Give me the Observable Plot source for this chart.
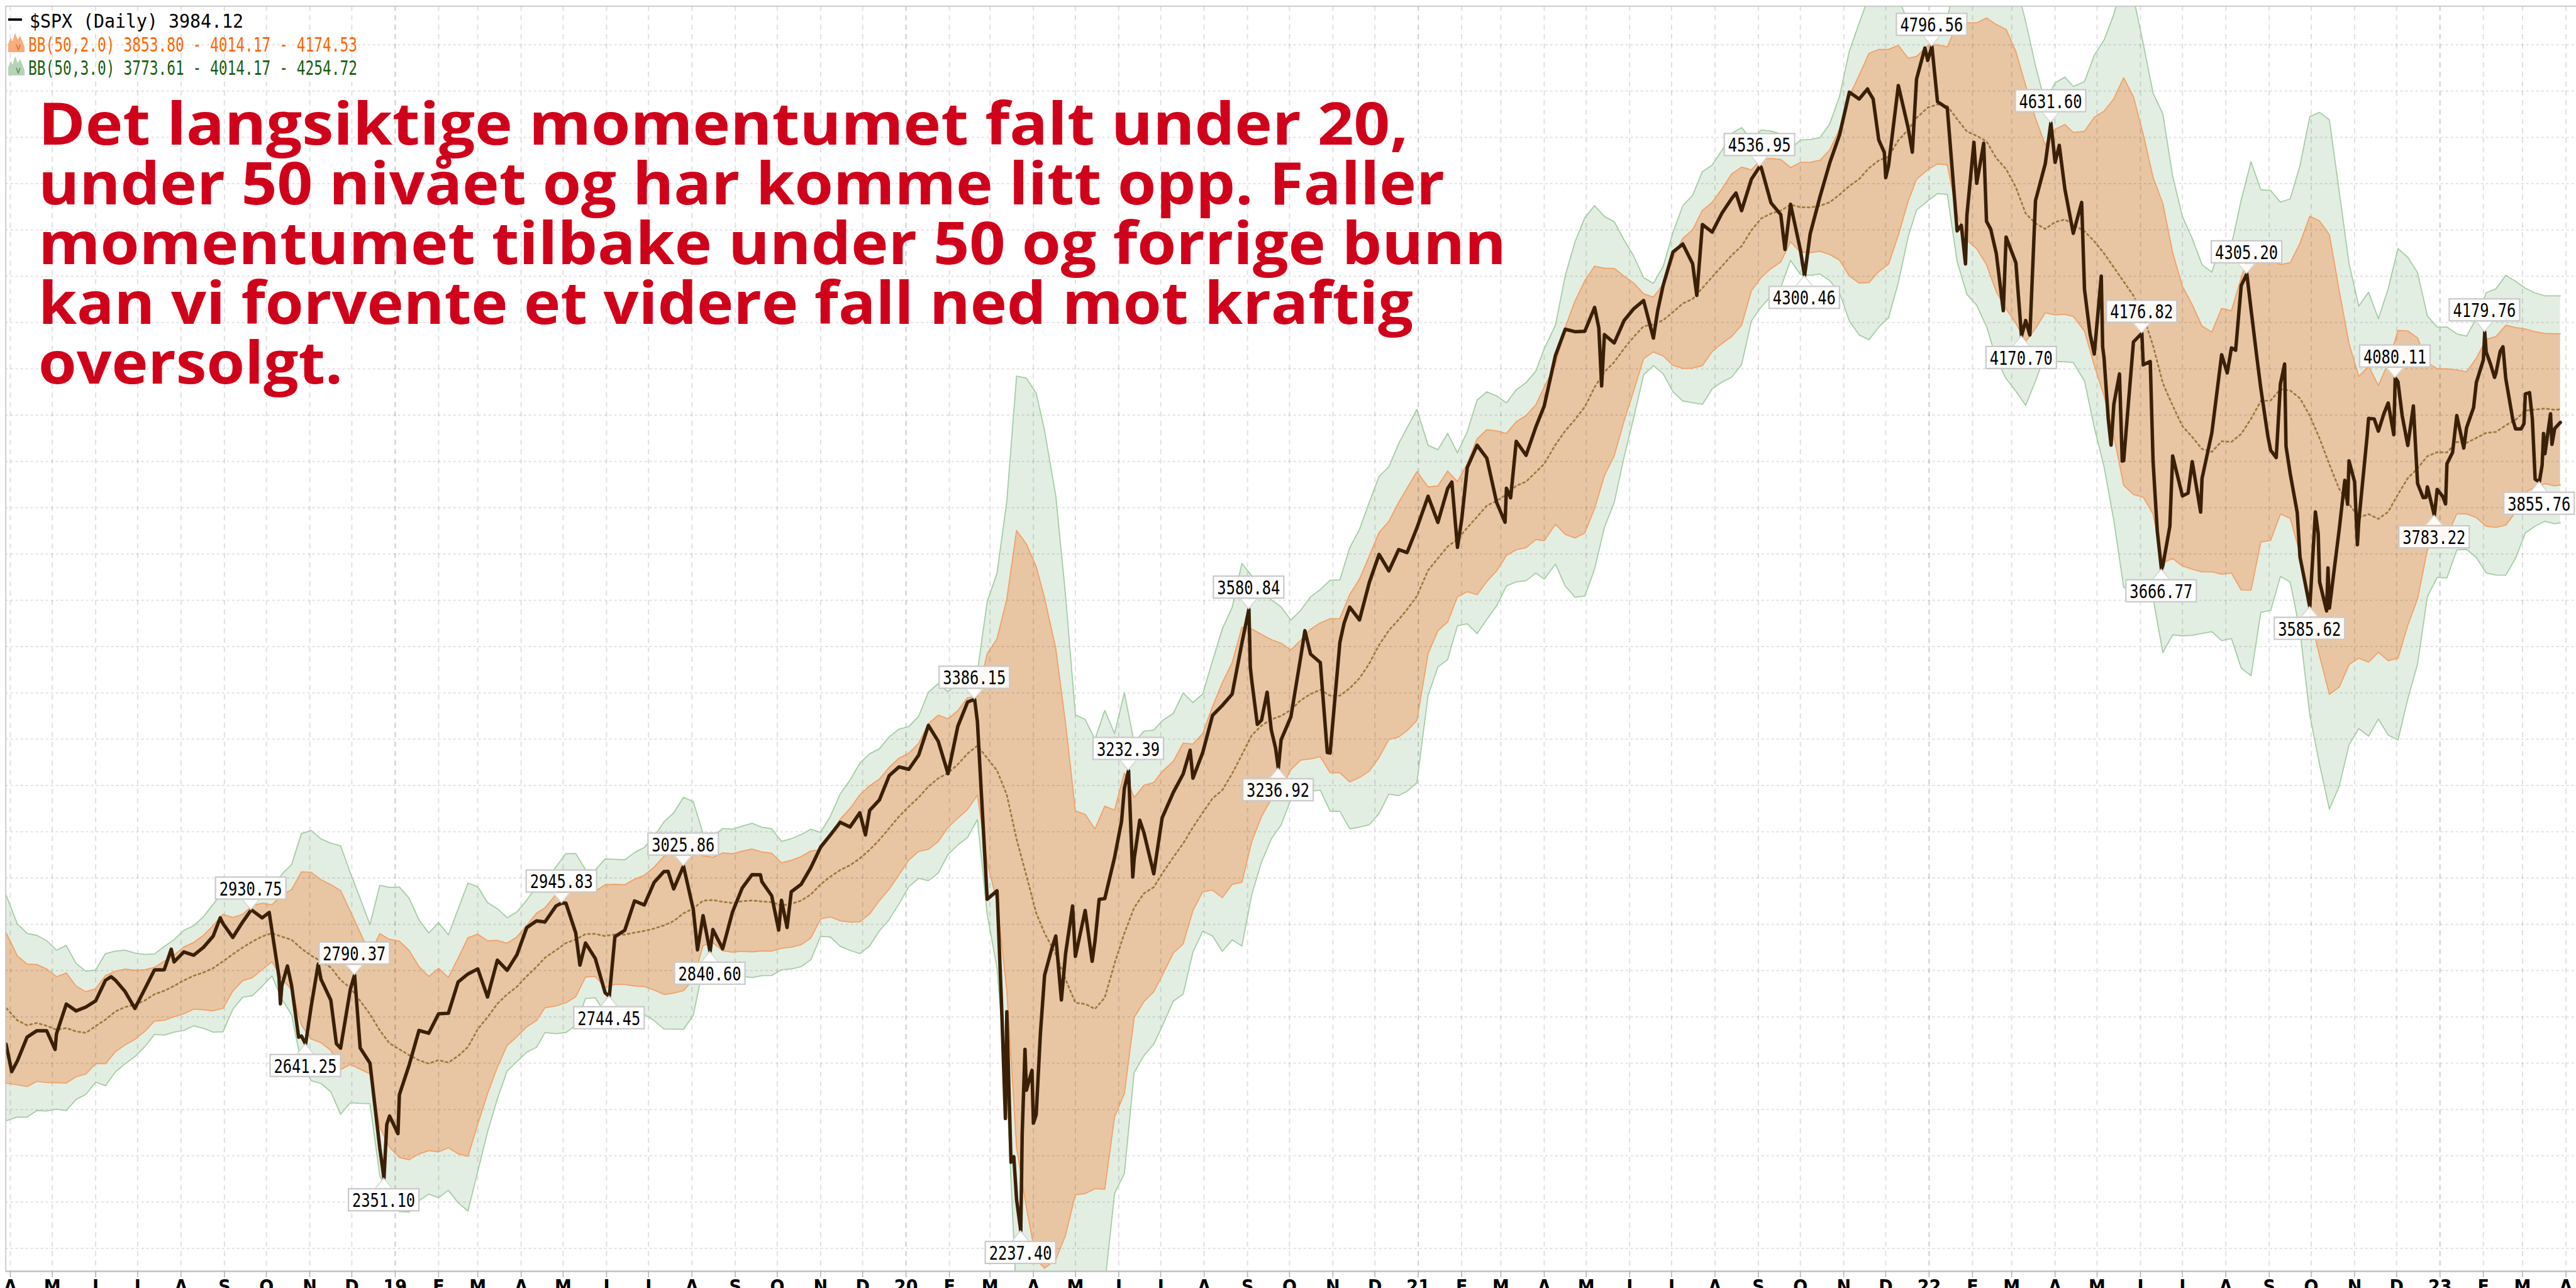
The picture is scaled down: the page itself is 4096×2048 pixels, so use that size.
<!DOCTYPE html>
<html><head><meta charset="utf-8">
<script src="https://cdn.jsdelivr.net/npm/d3@7"></script>
<script src="https://cdn.jsdelivr.net/npm/@observablehq/plot@0.6"></script>
<style>
html,body{margin:0;padding:0;background:#fff;}
#chart{position:relative;width:4096px;height:2048px;overflow:hidden;background:#fff;}
</style></head><body><div id="chart"></div>
<script>
// ---------- DATA (S&P 500 closes) ----------
const weekly2018 = [
["2017-12-01",2642.22],["2017-12-08",2651.50],["2017-12-15",2675.81],["2017-12-22",2683.34],["2017-12-29",2673.61],
["2018-01-05",2743.15],["2018-01-12",2786.24],["2018-01-19",2810.30],["2018-01-26",2872.87],["2018-02-02",2762.13],
["2018-02-09",2619.55],["2018-02-16",2732.22],["2018-02-23",2747.30],["2018-03-02",2691.25],["2018-03-09",2786.57],
["2018-03-16",2752.01],["2018-03-23",2588.26],["2018-03-29",2640.87],["2018-04-06",2604.47],["2018-04-13",2656.30],
["2018-04-20",2670.14],["2018-04-27",2669.91],["2018-05-04",2663.42],["2018-05-11",2727.72],["2018-05-18",2712.97],
["2018-05-25",2721.33],["2018-06-01",2734.62],["2018-06-08",2779.03],["2018-06-15",2779.66],["2018-06-22",2754.88],
["2018-06-29",2718.37],["2018-07-06",2759.82],["2018-07-13",2801.31],["2018-07-20",2801.83],["2018-07-27",2818.82],
["2018-08-03",2840.35],["2018-08-10",2833.28],["2018-08-17",2850.13],["2018-08-24",2874.69],["2018-08-31",2901.52],
["2018-09-07",2871.68],["2018-09-14",2904.98],["2018-09-21",2929.67],["2018-09-28",2913.98],["2018-10-05",2885.57],
["2018-10-12",2767.13],["2018-10-19",2767.78],["2018-10-26",2658.69],["2018-11-02",2723.06],["2018-11-09",2781.01],
["2018-11-16",2736.27],["2018-11-23",2632.56],["2018-11-30",2760.17],["2018-12-07",2633.08],["2018-12-14",2599.95],
["2018-12-21",2416.62],["2018-12-28",2485.74]];
const weekly2019 = [
["2019-01-04",2531.94],["2019-01-11",2596.26],["2019-01-18",2670.71],["2019-01-25",2664.76],["2019-02-01",2706.53],
["2019-02-08",2707.88],["2019-02-15",2775.60],["2019-02-22",2792.67],["2019-03-01",2803.69],["2019-03-08",2743.07],
["2019-03-15",2822.48],["2019-03-22",2800.71],["2019-03-29",2834.40],["2019-04-05",2892.74],["2019-04-12",2907.41],
["2019-04-18",2905.03],["2019-04-26",2939.88],["2019-05-03",2945.64],["2019-05-10",2881.40],["2019-05-17",2859.53],
["2019-05-24",2826.06],["2019-05-31",2752.06],["2019-06-07",2873.34],["2019-06-14",2886.98],["2019-06-21",2950.46],
["2019-06-28",2941.76],["2019-07-05",2990.41],["2019-07-12",3013.77],["2019-07-19",2976.61],["2019-07-26",3025.86],
["2019-08-02",2932.05],["2019-08-09",2918.65],["2019-08-16",2888.68],["2019-08-23",2847.11],["2019-08-30",2926.46],
["2019-09-06",2978.71],["2019-09-13",3007.39],["2019-09-20",2992.07],["2019-09-27",2961.79],["2019-10-04",2952.01],
["2019-10-11",2970.27],["2019-10-18",2986.20],["2019-10-25",3022.55],["2019-11-01",3066.91],["2019-11-08",3093.08],
["2019-11-15",3120.46],["2019-11-22",3110.29],["2019-11-29",3140.98],["2019-12-06",3145.91],["2019-12-13",3168.80],
["2019-12-20",3221.22],["2019-12-27",3240.02]];
const weekly2020 = [
["2020-01-03",3234.85],["2020-01-10",3265.35],["2020-01-17",3329.62],["2020-01-24",3295.47],["2020-01-31",3225.52],
["2020-02-07",3327.71],["2020-02-14",3380.16],["2020-02-21",3337.75],["2020-02-28",2954.22],["2020-03-06",2972.37],
["2020-03-13",2711.02],["2020-03-20",2304.92],["2020-03-27",2541.47],["2020-04-03",2488.65],["2020-04-09",2789.82],
["2020-04-17",2874.56],["2020-04-24",2836.74],["2020-05-01",2830.71],["2020-05-08",2929.80],["2020-05-15",2863.70],
["2020-05-22",2955.45],["2020-05-29",3044.31],["2020-06-05",3193.93],["2020-06-12",3041.31],["2020-06-19",3097.74],
["2020-06-26",3009.05],["2020-07-02",3130.01],["2020-07-10",3185.04],["2020-07-17",3224.73],["2020-07-24",3215.63],
["2020-07-31",3271.12],["2020-08-07",3351.28],["2020-08-14",3372.85],["2020-08-21",3397.16],["2020-08-28",3508.01],
["2020-09-04",3426.96],["2020-09-11",3340.97],["2020-09-18",3319.47],["2020-09-25",3298.46],["2020-10-02",3348.44],
["2020-10-09",3477.13],["2020-10-16",3483.81],["2020-10-23",3465.39],["2020-10-30",3269.96],["2020-11-06",3509.44],
["2020-11-13",3585.15],["2020-11-20",3557.54],["2020-11-27",3638.35],["2020-12-04",3699.12],["2020-12-11",3663.46],
["2020-12-18",3709.41],["2020-12-24",3703.06],["2020-12-31",3756.07]];
const weekly2021 = [
["2021-01-08",3824.68],["2021-01-15",3768.25],["2021-01-22",3841.47],["2021-01-29",3714.24],["2021-02-05",3886.83],
["2021-02-12",3934.83],["2021-02-19",3906.71],["2021-02-26",3811.15],["2021-03-05",3841.94],["2021-03-12",3943.34],
["2021-03-19",3913.10],["2021-03-26",3974.54],["2021-04-01",4019.87],["2021-04-09",4128.80],["2021-04-16",4185.47],
["2021-04-23",4180.17],["2021-04-30",4181.17],["2021-05-07",4232.60],["2021-05-14",4173.85],["2021-05-21",4155.86],
["2021-05-28",4204.11],["2021-06-04",4229.89],["2021-06-11",4247.44],["2021-06-18",4166.45],["2021-06-25",4280.70],
["2021-07-02",4352.34],["2021-07-09",4369.55],["2021-07-16",4327.16],["2021-07-23",4411.79],["2021-07-30",4395.26],
["2021-08-06",4436.52],["2021-08-13",4468.00],["2021-08-20",4441.67],["2021-08-27",4509.37],["2021-09-03",4535.43],
["2021-09-10",4458.58],["2021-09-17",4432.99],["2021-09-24",4455.48],["2021-10-01",4357.04],["2021-10-08",4391.34],
["2021-10-15",4471.37],["2021-10-22",4544.90],["2021-10-29",4605.38],["2021-11-05",4697.53],["2021-11-12",4682.85],
["2021-11-19",4697.96],["2021-11-26",4594.62],["2021-12-03",4538.43],["2021-12-10",4712.02],["2021-12-17",4620.64],
["2021-12-23",4725.79],["2021-12-31",4766.18]];
const weekly2022 = [
["2022-01-07",4677.03],["2022-01-14",4662.85],["2022-01-21",4397.94],["2022-01-28",4431.85],["2022-02-04",4500.53],
["2022-02-11",4418.64],["2022-02-18",4348.87],["2022-02-25",4384.65],["2022-03-04",4328.87],["2022-03-11",4204.31],
["2022-03-18",4463.12],["2022-03-25",4543.06],["2022-04-01",4545.86],["2022-04-08",4488.28],["2022-04-14",4392.59],
["2022-04-22",4271.78],["2022-04-29",4131.93],["2022-05-06",4123.34],["2022-05-13",4023.89],["2022-05-20",3901.36],
["2022-05-27",4158.24],["2022-06-03",4108.54],["2022-06-10",3900.86],["2022-06-17",3674.84],["2022-06-24",3911.74],
["2022-07-01",3825.33],["2022-07-08",3899.38],["2022-07-15",3863.16],["2022-07-22",3961.63],["2022-07-29",4130.29],
["2022-08-05",4145.19],["2022-08-12",4280.15],["2022-08-19",4228.48],["2022-08-26",4057.66],["2022-09-02",3924.26],
["2022-09-09",4067.36],["2022-09-16",3873.33],["2022-09-23",3693.23],["2022-09-30",3585.62],["2022-10-07",3639.66],
["2022-10-14",3583.07],["2022-10-21",3752.75],["2022-10-28",3901.06],["2022-11-04",3770.55],["2022-11-11",3992.93],
["2022-11-18",3965.34],["2022-11-25",4026.12],["2022-12-02",4071.70],["2022-12-09",3934.38],["2022-12-16",3852.36],
["2022-12-23",3844.82],["2022-12-30",3839.50]];
const weekly2023 = [
["2023-01-06",3895.08],["2023-01-13",3999.09],["2023-01-20",3972.61],["2023-01-27",4070.56],["2023-02-03",4136.48],
["2023-02-10",4090.46],["2023-02-17",4079.09],["2023-02-24",3970.04],["2023-03-03",4045.64],["2023-03-10",3861.59],
["2023-03-17",3916.64],["2023-03-24",3970.99],["2023-03-28",3984.12]];
// extra daily closes between weekly points
const extraDays = [
["2018-02-08",2581.00],["2018-03-13",2765.31],["2018-04-02",2581.88],["2018-05-03",2629.73],["2018-06-12",2786.85],
["2018-07-25",2846.07],["2018-08-29",2914.04],["2018-10-03",2925.51],["2018-10-10",2785.68],["2018-10-11",2728.37],
["2018-10-16",2809.92],["2018-10-24",2656.10],["2018-11-07",2813.89],["2018-11-20",2641.89],["2018-12-26",2467.70],
["2019-01-03",2447.89],["2019-05-13",2811.87],["2019-07-15",3014.30],["2019-08-05",2844.74],["2019-09-19",3006.79],
["2019-10-02",2887.61],["2019-10-08",2893.06],["2019-12-03",3093.20],
["2020-03-09",2746.56],["2020-03-12",2480.64],["2020-03-16",2386.13],["2020-03-18",2398.10],["2020-03-24",2447.33],
["2020-03-26",2630.07],["2020-03-31",2584.59],["2020-04-01",2470.50],["2020-04-06",2663.68],["2020-04-14",2846.06],
["2020-04-21",2736.56],["2020-04-29",2939.51],["2020-05-13",2820.00],["2020-05-18",2953.91],["2020-06-03",3122.87],
["2020-06-11",3002.10],["2020-06-16",3124.74],["2020-07-22",3276.02],["2020-09-03",3455.06],["2020-09-08",3331.84],
["2020-09-15",3401.20],["2020-09-21",3281.06],["2020-10-12",3534.22],["2020-10-28",3271.03],["2020-11-09",3550.50],
["2021-01-25",3855.36],["2021-02-01",3773.86],["2021-03-04",3768.47],["2021-03-08",3821.35],["2021-05-10",4188.43],
["2021-05-12",4063.04],["2021-06-21",4224.79],["2021-07-19",4258.49],["2021-08-16",4479.71],["2021-09-20",4357.73],
["2021-11-18",4704.54],["2021-11-22",4682.94],["2021-11-30",4567.00],["2021-12-01",4513.04],["2021-12-20",4568.02],
["2021-12-29",4793.06],
["2022-01-24",4410.13],["2022-01-27",4326.51],["2022-02-02",4589.38],["2022-02-09",4587.18],["2022-02-14",4401.67],
["2022-02-23",4225.50],["2022-03-14",4173.11],["2022-04-04",4582.64],["2022-04-20",4459.45],["2022-04-26",4175.20],
["2022-05-04",4300.17],["2022-05-05",4146.87],["2022-05-09",3991.24],["2022-05-11",3935.18],["2022-05-17",4088.85],
["2022-05-19",3900.79],["2022-06-08",4115.77],["2022-06-13",3749.63],["2022-06-22",3759.89],["2022-07-05",3831.39],
["2022-07-14",3790.38],["2022-08-02",4091.19],["2022-08-08",4140.06],["2022-08-23",4128.73],["2022-08-31",3955.00],
["2022-09-06",3908.19],["2022-09-12",4110.41],["2022-09-13",3932.69],["2022-09-21",3789.93],["2022-10-04",3790.93],
["2022-10-06",3744.52],["2022-10-12",3577.03],["2022-10-13",3669.91],["2022-10-25",3859.11],["2022-10-27",3807.30],
["2022-11-01",3856.10],["2022-11-03",3719.89],["2022-11-10",3956.37],["2022-11-15",3991.73],["2022-11-22",4003.58],
["2022-11-29",3957.63],["2022-12-01",4076.57],["2022-12-05",3998.84],["2022-12-13",4019.65],["2022-12-20",3821.62],
["2022-12-22",3822.39],
["2023-01-03",3824.14],["2023-01-05",3808.10],["2023-01-10",3919.25],["2023-01-18",3928.86],["2023-01-25",4016.22],
["2023-02-01",4119.21],["2023-02-06",4111.08],["2023-02-09",4081.50],["2023-02-13",4137.29],["2023-02-15",4147.60],
["2023-02-22",3991.05],["2023-02-28",3970.15],["2023-03-02",3981.35],["2023-03-06",4048.42],["2023-03-08",3992.01],
["2023-03-15",3891.93],["2023-03-16",3960.28],["2023-03-21",4002.87],["2023-03-22",3936.97]];
// labelled highs / lows
const labelDates = ["2018-09-20","2018-10-29","2018-12-03","2018-12-24","2019-04-30","2019-06-03","2019-07-26","2019-08-14",
  "2020-02-19","2020-03-23","2020-06-08","2020-09-02","2020-09-23","2021-09-02","2021-10-04","2022-01-03","2022-03-08",
  "2022-03-29","2022-06-02","2022-06-16","2022-08-16","2022-09-30","2022-11-30","2022-12-28","2023-02-02","2023-03-13"];
const labelValues = [2930.75,2641.25,2790.37,2351.10,2945.83,2744.45,3025.86,2840.60,
  3386.15,2237.40,3232.39,3580.84,3236.92,4536.95,4300.46,4796.56,4170.70,
  4631.60,4176.82,3666.77,4305.20,3585.62,4080.11,3783.22,4179.76,3855.76];
const labelSides = ["top","bottom","top","bottom","top","bottom","top","bottom",
  "top","bottom","top","top","bottom","top","bottom","top","bottom",
  "top","top","bottom","top","bottom","top","bottom","top","bottom"];
const monthLetters = ["J","F","M","A","M","J","J","A","S","O","N","D"];
const legendTexts = ["$SPX (Daily) 3984.12","BB(50,2.0) 3853.80 - 4014.17 - 4174.53","BB(50,3.0) 3773.61 - 4014.17 - 4254.72"];
const noteLines = ["Det langsiktige momentumet falt under 20,","under 50 nivået og har komme litt opp. Faller",
  "momentumet tilbake under 50 og forrige bunn","kan vi forvente et videre fall ned mot kraftig","oversolgt."];

// ---------- PREP ----------
const S = 0.72;
const parse = d3.utcParse("%Y-%m-%d");
const weekly = [...weekly2018,...weekly2019,...weekly2020,...weekly2021,...weekly2022,...weekly2023]
  .map(([d,c]) => ({date: parse(d), close: c}));
// Bollinger bands (50 trading days ~ 10 weeks), population deviation
const K = 10;
const bands = weekly.map((d,i) => {
  const w = weekly.slice(Math.max(0,i-K+1), i+1).map(e => e.close);
  const m = d3.mean(w), sd = Math.sqrt(d3.mean(w, v => (v-m)*(v-m)));
  return {date: d.date, mid: m, hi2: m+2*sd, lo2: m-2*sd, hi3: m+3*sd, lo3: m-3*sd};
});
const byDate = new Map();
weekly.forEach(d => byDate.set(+d.date, d));
extraDays.forEach(([d,c]) => byDate.set(+parse(d), {date: parse(d), close: c}));
labelDates.forEach((d,i) => byDate.set(+parse(d), {date: parse(d), close: labelValues[i]}));
const series = [...byDate.values()].sort((a,b) => a.date - b.date);

const xDomain = [new Date(Date.UTC(2018,2,28,18)), new Date(Date.UTC(2023,3,8,10))];
const yDomain = [2150.3, 4883.3];
const monthTicks = d3.utcMonth.range(new Date(Date.UTC(2018,3,1)), new Date(Date.UTC(2023,3,2)));
const yearTicks = monthTicks.filter(d => d.getUTCMonth() === 0);
const otherTicks = monthTicks.filter(d => d.getUTCMonth() !== 0);
const gridPrices = d3.range(2200, 4900, 100);
const tickLabel = d => d.getUTCMonth() === 0 ? String(d.getUTCFullYear() % 100).padStart(2,"0") : monthLetters[d.getUTCMonth()];

const frameTop = 13*S, frameBottom = 2807*S;
const chart = Plot.plot({
  width: 4096, height: 2048,
  marginLeft: 12*S, marginRight: 0, marginTop: frameTop, marginBottom: 2048 - frameBottom,
  style: {background: "#fff", overflow: "visible"},
  x: {type: "utc", domain: xDomain, axis: null},
  y: {domain: yDomain, axis: null},
  marks: [
    Plot.areaY(bands, {x: "date", y1: "lo3", y2: "hi3", fill: "#e3eee3", clip: true}),
    Plot.areaY(bands, {x: "date", y1: "lo2", y2: "hi2", fill: "#e8c6a4", clip: true}),
    Plot.ruleX(otherTicks, {x: d => d, stroke: "#000", strokeOpacity: 0.12, strokeWidth: 2, strokeDasharray: "8,7"}),
    Plot.ruleX(yearTicks, {x: d => d, stroke: "#000", strokeOpacity: 0.2, strokeWidth: 2, strokeDasharray: "8,7"}),
    Plot.ruleY(gridPrices, {y: d => d, stroke: "#000", strokeOpacity: 0.11, strokeWidth: 2, strokeDasharray: "4,4"}),
    Plot.lineY(bands, {x: "date", y: "hi3", stroke: "#a3cda3", strokeWidth: 1.8, clip: true}),
    Plot.lineY(bands, {x: "date", y: "lo3", stroke: "#a3cda3", strokeWidth: 1.8, clip: true}),
    Plot.lineY(bands, {x: "date", y: "hi2", stroke: "#f1a26a", strokeWidth: 1.9, clip: true}),
    Plot.lineY(bands, {x: "date", y: "lo2", stroke: "#f1a26a", strokeWidth: 1.9, clip: true}),
    Plot.lineY(bands, {x: "date", y: "mid", stroke: "#9c7a3c", strokeWidth: 2.8, strokeDasharray: "3,5", clip: true}),
    Plot.lineY(series, {x: "date", y: "close", stroke: "#3a2007", strokeWidth: 5.5, strokeLinejoin: "round", clip: true}),
    Plot.ruleY([yDomain[1]], {stroke: "#c4c4c4", strokeWidth: 1.6}),
    Plot.ruleY([yDomain[0]], {stroke: "#c0c0c0", strokeWidth: 2.6}),
    Plot.ruleX([xDomain[0]], {stroke: "#c4c4c4", strokeWidth: 1.6}),
    Plot.axisX(monthTicks, {anchor: "bottom", tickSize: 10, tickPadding: 3, tickFormat: tickLabel,
      stroke: "#b5b5b5", strokeWidth: 1.6, fill: "#000", fontSize: 30, fontWeight: "bold",
      fontFamily: "'DejaVu Sans Condensed','Liberation Sans Narrow','DejaVu Sans',sans-serif", label: null})
  ]
});
document.getElementById("chart").appendChild(chart);

// ---------- overlays through the plot's own scales ----------
const xs = chart.scale("x"), ys = chart.scale("y");
const svg = d3.select(chart);
const g = svg.append("g").attr("class", "value-labels");
const bw = 112, bh = 35, ph = 17, pw = 14;
labelDates.forEach((d,i) => {
  const px = xs.apply(parse(d)), py = ys.apply(labelValues[i]);
  const up = labelSides[i] === "top";
  const base = up ? py - ph : py + ph;
  const by = up ? base - bh : base;
  const lg = g.append("g");
  lg.append("rect").attr("x", px - bw/2).attr("y", by).attr("width", bw).attr("height", bh)
    .attr("fill", "#fff").attr("fill-opacity", 0.9).attr("stroke", "#c9c9c9").attr("stroke-width", 2.2);
  const cover = up ? base + 1.5 : base - 1.5;
  lg.append("path").attr("d", `M${px-pw},${cover}L${px},${py}L${px+pw},${cover}Z`).attr("fill", "#fff").attr("fill-opacity", 0.9);
  lg.append("path").attr("d", `M${px-pw},${base}L${px},${py}L${px+pw},${base}`).attr("fill", "none")
    .attr("stroke", "#d2d2d2").attr("stroke-width", 1.5);
  lg.append("text").attr("x", px).attr("y", by + bh/2 + 11.5).attr("text-anchor", "middle")
    .attr("font-family", "'DejaVu Sans Mono',monospace").attr("font-size", 31).attr("fill", "#000")
    .attr("textLength", 100).attr("lengthAdjust", "spacingAndGlyphs").text(labelValues[i].toFixed(2));
});

// legend
const lgd = svg.append("g").attr("class", "legend").attr("text-anchor", "start");
lgd.append("rect").attr("x", 13).attr("y", 29.2).attr("width", 22).attr("height", 3.8).attr("fill", "#000");
lgd.append("text").attr("x", 47).attr("y", 44).attr("text-anchor", "start").attr("font-family", "'DejaVu Sans Mono',monospace")
  .attr("font-size", 30).attr("fill", "#000").attr("textLength", 340).attr("lengthAdjust", "spacingAndGlyphs").text(legendTexts[0]);
const mountain = (y0, fill, dark) => {
  lgd.append("path").attr("d", `M13,${y0+31}L13,${y0+18}L17,${y0+8}L20,${y0+14}L24,${y0}L28,${y0+11}L32,${y0+5}L39,${y0+22}L39,${y0+31}Z`).attr("fill", fill);
  lgd.append("path").attr("d", `M26,${y0+19}L29,${y0+27}L32,${y0+19}`).attr("fill", "none").attr("stroke", dark).attr("stroke-width", 1.5);
};
mountain(52, "#f7ad7c", "#e07030");
mountain(89, "#b5d4b5", "#5a8a5a");
lgd.append("text").attr("x", 45).attr("y", 82).attr("text-anchor", "start").attr("font-family", "'DejaVu Sans Mono',monospace")
  .attr("font-size", 32).attr("fill", "#ff6600").attr("textLength", 523).attr("lengthAdjust", "spacingAndGlyphs").text(legendTexts[1]);
lgd.append("text").attr("x", 45).attr("y", 119).attr("text-anchor", "start").attr("font-family", "'DejaVu Sans Mono',monospace")
  .attr("font-size", 32).attr("fill", "#1b5e12").attr("textLength", 523).attr("lengthAdjust", "spacingAndGlyphs").text(legendTexts[2]);

// annotation
const noteBase = [229.9, 324.9, 419.9, 514.9, 609.9];
const noteWidth = [2178, 2236, 2334, 2186, 484];
const note = svg.append("g").attr("class", "note").attr("text-anchor", "start");
noteLines.forEach((t,i) => {
  note.append("text").attr("x", 61).attr("y", noteBase[i]).attr("text-anchor", "start").attr("font-family", "'Open Sans','Lato',sans-serif")
    .attr("font-weight", 700).attr("font-size", 93).attr("fill", "#d0021b")
    .attr("textLength", noteWidth[i]).attr("lengthAdjust", "spacingAndGlyphs").text(t);
});
</script></body></html>
